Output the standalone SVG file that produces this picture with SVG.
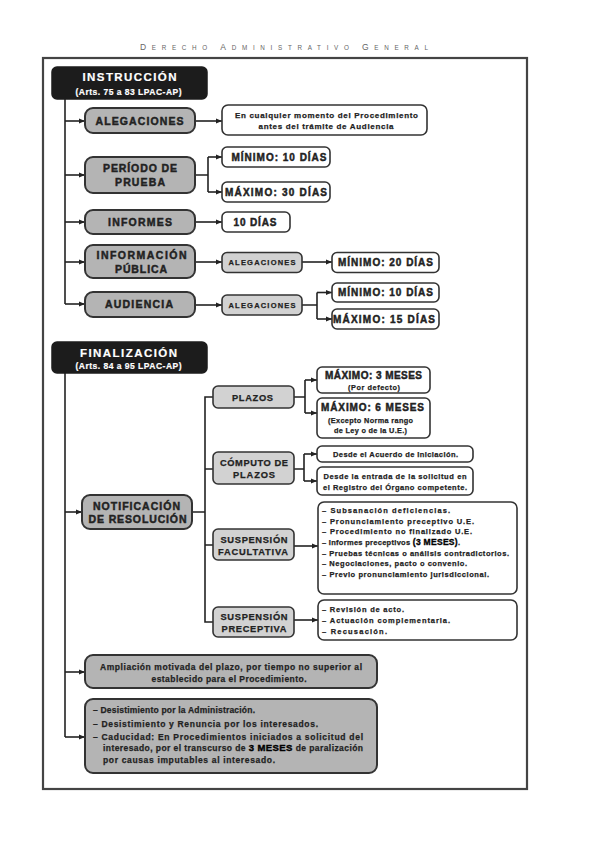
<svg xmlns="http://www.w3.org/2000/svg" width="599" height="848" viewBox="0 0 599 848">
<defs>
<marker id="ah" viewBox="0 0 6 6" refX="6" refY="3" markerWidth="6" markerHeight="6" markerUnits="userSpaceOnUse" orient="auto">
<path d="M0,0.6 L6,3 L0,5.4 Z" fill="#222"/>
</marker>
<style>
text{font-family:"Liberation Sans",Arial,sans-serif;font-weight:bold;fill:#222;stroke:#222;stroke-width:0.25}
.hd{font-weight:normal;fill:#666;stroke:none}
.blk{fill:#1c1c1c;stroke:#1c1c1c;stroke-width:1.5}
text.wt{fill:#fff;stroke:#fff;stroke-width:0.2}
.hv{stroke-width:0.45}
.main{fill:#b4b4b4;stroke:#333;stroke-width:2}
.lt{fill:#d2d2d2;stroke:#333;stroke-width:1.6}
.wb{fill:#fff;stroke:#333;stroke-width:1.6}
.c{fill:none;stroke:#222;stroke-width:1.6}
.a{fill:none;stroke:#222;stroke-width:1.6;marker-end:url(#ah)}
.f10{font-size:10.5px}
.f95{font-size:10px}
.f9{font-size:9.3px}
.f85{font-size:8.5px}
.f8{font-size:8px}
.f75{font-size:7.5px}
</style>
</defs>
<rect width="599" height="848" fill="#fff"/>
<text class="hd" x="140" y="50" textLength="288" lengthAdjust="spacing"><tspan font-size="8.5">D</tspan><tspan font-size="6.3">ERECHO </tspan><tspan font-size="8.5">A</tspan><tspan font-size="6.3">DMINISTRATIVO </tspan><tspan font-size="8.5">G</tspan><tspan font-size="6.3">ENERAL</tspan></text>
<rect x="43" y="58" width="484" height="731" fill="none" stroke="#444" stroke-width="2.2"/>

<g id="connectors">
<path class="c" d="M65,99 V304"/>
<path class="a" d="M65,121 H85"/>
<path class="a" d="M65,175 H85"/>
<path class="a" d="M65,222 H85"/>
<path class="a" d="M65,262 H85"/>
<path class="a" d="M65,304 H85"/>
<path class="a" d="M195,121 H222"/>
<path class="c" d="M195,175 H208 M208,157 V192"/>
<path class="a" d="M208,157 H222"/>
<path class="a" d="M208,192 H222"/>
<path class="a" d="M195,222 H222"/>
<path class="a" d="M195,262 H222"/>
<path class="a" d="M302,262 H332"/>
<path class="a" d="M195,305 H222"/>
<path class="c" d="M302,305 H317 M317,292.5 V319"/>
<path class="a" d="M317,292.5 H332"/>
<path class="a" d="M317,319 H332"/>
<path class="c" d="M65,373 V737"/>
<path class="a" d="M65,512 H82"/>
<path class="a" d="M65,672 H85"/>
<path class="a" d="M65,737 H85"/>
<path class="c" d="M192,512 H205 M213,397 H205 V622 H213 M205,469 H213 M205,545 H213"/>
<path class="c" d="M294,397 H305 M305,380 V413"/>
<path class="a" d="M305,380 H317"/>
<path class="a" d="M305,413 H317"/>
<path class="c" d="M294,469 H304 M304,454 V481"/>
<path class="a" d="M304,454 H317"/>
<path class="a" d="M304,481 H317"/>
<path class="a" d="M294,546 H318"/>
<path class="a" d="M294,620 H318"/>
</g>

<g id="instruccion">
<rect class="blk" x="52" y="67" width="155" height="32" rx="5"/>
<text class="wt" x="129.5" y="81" text-anchor="middle" font-size="11.5" textLength="94" lengthAdjust="spacing">INSTRUCCIÓN</text>
<text class="wt" x="128.5" y="94.5" text-anchor="middle" font-size="8.5" textLength="106" lengthAdjust="spacing">(Arts. 75 a 83 LPAC-AP)</text>
</g>

<g id="alegaciones">
<rect class="main" x="85" y="108" width="110" height="25" rx="8"/>
<text class="f10 hv" x="139.5" y="124.5" text-anchor="middle" textLength="88" lengthAdjust="spacing">ALEGACIONES</text>
</g>
<g id="alegaciones-nota">
<rect class="wb" x="222" y="105" width="205" height="30" rx="6"/>
<text class="f8" x="326.5" y="118" text-anchor="middle" textLength="183" lengthAdjust="spacing">En cualquier momento del Procedimiento</text>
<text class="f8" x="326" y="129" text-anchor="middle" textLength="135" lengthAdjust="spacing">antes del trámite de Audiencia</text>
</g>

<g id="periodo-prueba">
<rect class="main" x="85" y="157" width="110" height="36" rx="8"/>
<text class="f10 hv" x="140" y="171.5" text-anchor="middle" textLength="74" lengthAdjust="spacing">PERÍODO DE</text>
<text class="f10 hv" x="140" y="186" text-anchor="middle" textLength="50" lengthAdjust="spacing">PRUEBA</text>
</g>
<g id="pp-min">
<rect class="wb" x="222" y="147" width="108" height="20" rx="5"/>
<text class="f95 hv" x="279" y="160.8" text-anchor="middle" textLength="95" lengthAdjust="spacing">MÍNIMO: 10 DÍAS</text>
</g>
<g id="pp-max">
<rect class="wb" x="222" y="182" width="108" height="20" rx="5"/>
<text class="f95 hv" x="276" y="195.8" text-anchor="middle" textLength="102" lengthAdjust="spacing">MÁXIMO: 30 DÍAS</text>
</g>

<g id="informes">
<rect class="main" x="85" y="210" width="110" height="24" rx="8"/>
<text class="f10 hv" x="140" y="225.8" text-anchor="middle" textLength="64" lengthAdjust="spacing">INFORMES</text>
</g>
<g id="informes-plazo">
<rect class="wb" x="222" y="212" width="68" height="20" rx="5"/>
<text class="f95 hv" x="255" y="225.8" text-anchor="middle" textLength="43" lengthAdjust="spacing">10 DÍAS</text>
</g>

<g id="info-publica">
<rect class="main" x="85" y="245" width="110" height="33" rx="8"/>
<text class="f10 hv" x="141.5" y="259" text-anchor="middle" textLength="90" lengthAdjust="spacing">INFORMACIÓN</text>
<text class="f10 hv" x="141" y="272.5" text-anchor="middle" textLength="52" lengthAdjust="spacing">PÚBLICA</text>
</g>
<g id="ip-alegaciones">
<rect class="lt" x="222" y="252.5" width="80" height="20" rx="5"/>
<text class="f75" x="262" y="265.3" text-anchor="middle" textLength="67" lengthAdjust="spacing">ALEGACIONES</text>
</g>
<g id="ip-min">
<rect class="wb" x="332" y="252.5" width="107" height="20" rx="5"/>
<text class="f95 hv" x="385.5" y="266.3" text-anchor="middle" textLength="95" lengthAdjust="spacing">MÍNIMO: 20 DÍAS</text>
</g>

<g id="audiencia">
<rect class="main" x="85" y="292" width="110" height="25" rx="8"/>
<text class="f10 hv" x="139" y="308.3" text-anchor="middle" textLength="68" lengthAdjust="spacing">AUDIENCIA</text>
</g>
<g id="au-alegaciones">
<rect class="lt" x="222" y="295" width="80" height="20" rx="5"/>
<text class="f75" x="262" y="307.8" text-anchor="middle" textLength="67" lengthAdjust="spacing">ALEGACIONES</text>
</g>
<g id="au-min">
<rect class="wb" x="332" y="283" width="107" height="19" rx="5"/>
<text class="f95 hv" x="385.5" y="296.3" text-anchor="middle" textLength="95" lengthAdjust="spacing">MÍNIMO: 10 DÍAS</text>
</g>
<g id="au-max">
<rect class="wb" x="332" y="309" width="107" height="20" rx="5"/>
<text class="f95 hv" x="384" y="322.8" text-anchor="middle" textLength="102" lengthAdjust="spacing">MÁXIMO: 15 DÍAS</text>
</g>

<g id="finalizacion">
<rect class="blk" x="52" y="342" width="155" height="31" rx="5"/>
<text class="wt" x="128.5" y="357" text-anchor="middle" font-size="11.5" textLength="97" lengthAdjust="spacing">FINALIZACIÓN</text>
<text class="wt" x="128.5" y="369" text-anchor="middle" font-size="8.5" textLength="106" lengthAdjust="spacing">(Arts. 84 a 95 LPAC-AP)</text>
</g>

<g id="notificacion">
<rect class="main" x="82" y="495" width="110" height="34" rx="8"/>
<text class="f10 hv" x="136.5" y="509.5" text-anchor="middle" textLength="87" lengthAdjust="spacing">NOTIFICACIÓN</text>
<text class="f10 hv" x="137.5" y="522.5" text-anchor="middle" textLength="98" lengthAdjust="spacing">DE RESOLUCIÓN</text>
</g>

<g id="plazos">
<rect class="lt" x="213" y="386" width="81" height="22" rx="5"/>
<text class="f9" x="252.5" y="400.5" text-anchor="middle" textLength="41" lengthAdjust="spacing">PLAZOS</text>
</g>
<g id="plazos-3">
<rect class="wb" x="317" y="367" width="113" height="26" rx="5"/>
<text class="f95 hv" x="373.5" y="379.3" text-anchor="middle" textLength="97" lengthAdjust="spacing">MÁXIMO: 3 MESES</text>
<text x="374" y="389.5" text-anchor="middle" font-size="7.3" textLength="52" lengthAdjust="spacing">(Por defecto)</text>
</g>
<g id="plazos-6">
<rect class="wb" x="317" y="398" width="113" height="40" rx="5"/>
<text class="f95 hv" x="372.5" y="411.3" text-anchor="middle" textLength="103" lengthAdjust="spacing">MÁXIMO: 6 MESES</text>
<text x="370.5" y="423" text-anchor="middle" font-size="7.3" textLength="85" lengthAdjust="spacing">(Excepto Norma rango</text>
<text x="370.5" y="433" text-anchor="middle" font-size="7.3" textLength="73" lengthAdjust="spacing">de Ley o de la U.E.)</text>
</g>

<g id="computo">
<rect class="lt" x="213" y="452" width="81" height="32" rx="5"/>
<text class="f9" x="254" y="465.5" text-anchor="middle" textLength="68" lengthAdjust="spacing">CÓMPUTO DE</text>
<text class="f9" x="254" y="478" text-anchor="middle" textLength="42" lengthAdjust="spacing">PLAZOS</text>
</g>
<g id="computo-1">
<rect class="wb" x="317" y="446" width="156" height="16" rx="5"/>
<text x="395.5" y="457" text-anchor="middle" font-size="7.5" textLength="125" lengthAdjust="spacing">Desde el Acuerdo de Iniciación.</text>
</g>
<g id="computo-2">
<rect class="wb" x="317" y="467" width="156" height="28" rx="5"/>
<text x="395" y="478.5" text-anchor="middle" font-size="7.5" textLength="143" lengthAdjust="spacing">Desde la entrada de la solicitud en</text>
<text x="395" y="489.5" text-anchor="middle" font-size="7.5" textLength="144" lengthAdjust="spacing">el Registro del Órgano competente.</text>
</g>

<g id="susp-facultativa">
<rect class="lt" x="213" y="529" width="81" height="31" rx="5"/>
<text class="f9" x="254" y="542.5" text-anchor="middle" textLength="67" lengthAdjust="spacing">SUSPENSIÓN</text>
<text class="f9" x="253" y="554.5" text-anchor="middle" textLength="70" lengthAdjust="spacing">FACULTATIVA</text>
</g>
<g id="sf-lista">
<rect class="wb" x="318" y="502" width="199" height="92" rx="6"/>
<text x="322" y="513" font-size="7.5" textLength="128" lengthAdjust="spacing">– Subsanación deficiencias.</text>
<text x="322" y="523.5" font-size="7.5" textLength="152" lengthAdjust="spacing">– Pronunciamiento preceptivo U.E.</text>
<text x="322" y="534" font-size="7.5" textLength="150" lengthAdjust="spacing">– Procedimiento no finalizado U.E.</text>
<text x="322" y="545" font-size="7.5" textLength="138" lengthAdjust="spacing">– Informes preceptivos <tspan font-size="8.5" fill="#000" stroke="#000" stroke-width="0.35">(3 MESES)</tspan>.</text>
<text x="322" y="555.5" font-size="7.5" textLength="187" lengthAdjust="spacing">– Pruebas técnicas o análisis contradictorios.</text>
<text x="322" y="566" font-size="7.5" textLength="145" lengthAdjust="spacing">– Negociaciones, pacto o convenio.</text>
<text x="322" y="576.5" font-size="7.5" textLength="167" lengthAdjust="spacing">– Previo pronunciamiento jurisdiccional.</text>
</g>

<g id="susp-preceptiva">
<rect class="lt" x="213" y="607" width="81" height="30" rx="5"/>
<text class="f9" x="254" y="620" text-anchor="middle" textLength="67" lengthAdjust="spacing">SUSPENSIÓN</text>
<text class="f9" x="254" y="632" text-anchor="middle" textLength="65" lengthAdjust="spacing">PRECEPTIVA</text>
</g>
<g id="sp-lista">
<rect class="wb" x="318" y="600" width="199" height="40" rx="6"/>
<text x="322" y="611.5" font-size="7.5" textLength="82" lengthAdjust="spacing">– Revisión de acto.</text>
<text x="322" y="622.5" font-size="7.5" textLength="128" lengthAdjust="spacing">– Actuación complementaria.</text>
<text x="322" y="633.5" font-size="7.5" textLength="65" lengthAdjust="spacing">– Recusación.</text>
</g>

<g id="ampliacion">
<rect class="main" x="85" y="655" width="292" height="33" rx="8"/>
<text class="f85" x="231" y="670" text-anchor="middle" textLength="262" lengthAdjust="spacing">Ampliación motivada del plazo, por tiempo no superior al</text>
<text class="f85" x="229" y="682" text-anchor="middle" textLength="155" lengthAdjust="spacing">establecido para el Procedimiento.</text>
</g>

<g id="terminacion">
<rect class="main" x="85" y="699" width="292" height="74" rx="8"/>
<text class="f85" x="93" y="713" textLength="162" lengthAdjust="spacing">– Desistimiento por la Administración.</text>
<text class="f85" x="93" y="726.5" textLength="225" lengthAdjust="spacing">– Desistimiento y Renuncia por los interesados.</text>
<text class="f85" x="93" y="740" textLength="270" lengthAdjust="spacing">– Caducidad: En Procedimientos iniciados a solicitud del</text>
<text class="f85" x="103" y="751" textLength="260" lengthAdjust="spacing">interesado, por el transcurso de <tspan font-size="9.5" fill="#000" stroke="#000" stroke-width="0.4">3 MESES</tspan> de paralización</text>
<text class="f85" x="103" y="762.5" textLength="172" lengthAdjust="spacing">por causas imputables al interesado.</text>
</g>
</svg>
